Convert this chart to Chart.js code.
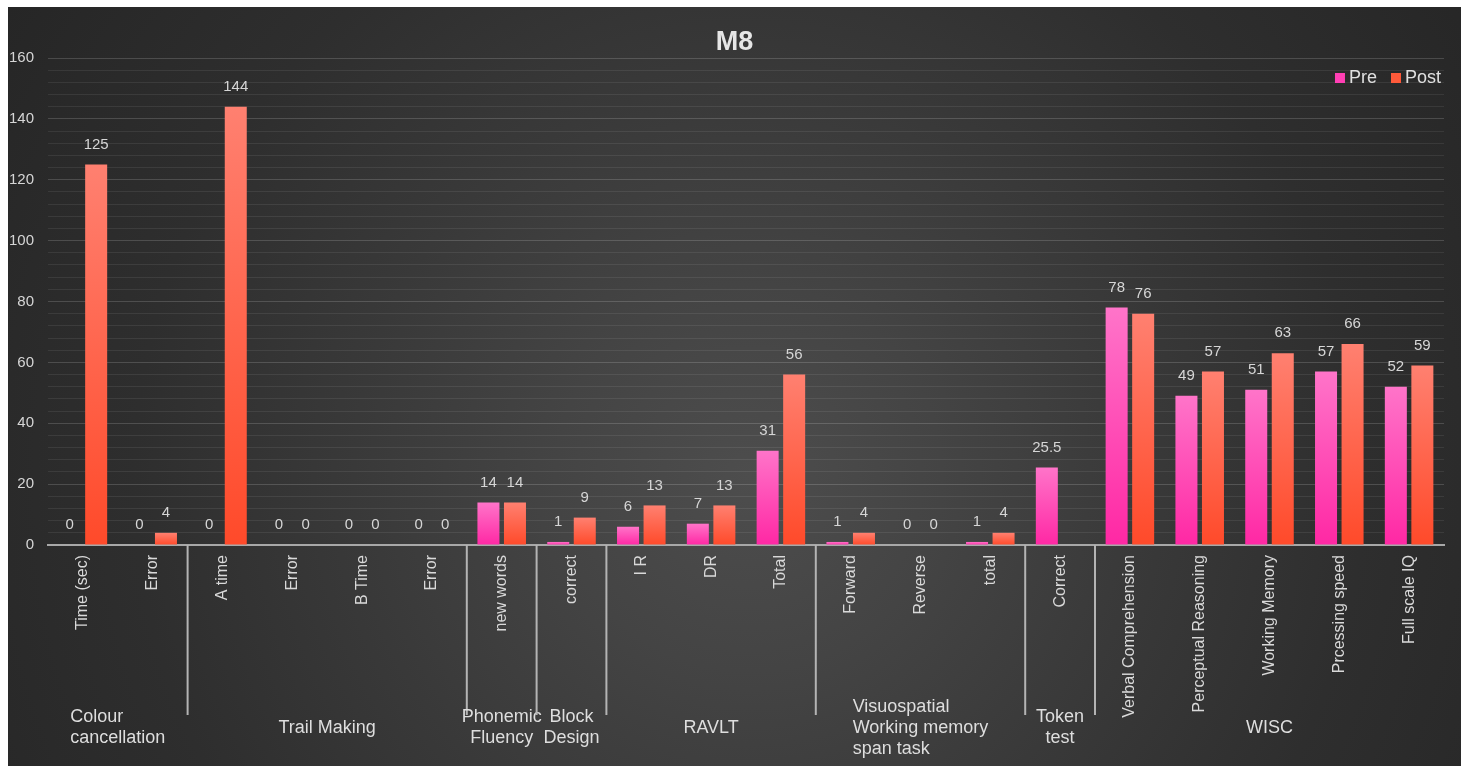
<!DOCTYPE html>
<html>
<head>
<meta charset="utf-8">
<script src="https://cdn.jsdelivr.net/npm/chart.js@4"></script>
<style>
body{margin:0;background:#fff}
.wrap{
    position:absolute;left:8px;top:7px;width:1453px;height:759px;
    background:radial-gradient(circle at 51% 62%, #4d4d4d 0%, #444 22%, #393939 45%, #2e2e2e 70%, #262626 100%);
}
</style>
</head>
<body>
<div class="wrap"><canvas id="chart"></canvas></div>
<script>

const categories=["Time (sec)","Error","A time","Error","B Time","Error","new words","correct","I R","DR","Total","Forward","Reverse","total","Correct","Verbal Comprehension","Perceptual Reasoning","Working Memory","Prcessing speed","Full scale IQ"]
const preValues=[0,0,0,0,0,0,14,1,6,7,31,1,0,1,25.5,78,49,51,57,52]
const postValues=[125,4,144,0,0,0,14,9,13,13,56,4,0,4,null,76,57,63,66,59]

// test groups under the axis, with how many categories each one covers
const groupNames=[["Colour","cancellation"],["Trail Making"],["Phonemic","Fluency"],["Block","Design"],["RAVLT"],["Visuospatial","Working memory","span task"],["Token","test"],["WISC"]]
const groupSizes=[2,4,1,1,3,3,1,5]

const yTicks=[0,20,40,60,80,100,120,140,160]

const FONT="'Liberation Sans', Arial, sans-serif"
const SOLID=["#ff3fb4","#ff5a3a"]

function barFill(top,bottom,solid){
    return (ctx)=>{
        const chart=ctx.chart
        if(ctx.type!=="data" || !chart.scales.y) return solid
        const v=ctx.raw
        if(v===null || v===undefined) return solid
        const y=chart.scales.y
        const y0=y.getPixelForValue(0)
        const y1=y.getPixelForValue(v)
        if(!isFinite(y0) || !isFinite(y1) || Math.abs(y0-y1)<1) return solid
        const g=chart.ctx.createLinearGradient(0,y1,0,y0)
        g.addColorStop(0,top)
        g.addColorStop(1,bottom)
        return g
    }
}

// value written above each bar
const valueLabels={
    id:"valueLabels",
    afterDatasetsDraw(chart){
        const c=chart.ctx
        c.save()
        c.font="15px "+FONT
        c.fillStyle="#d6d6d6"
        c.textAlign="center"
        c.textBaseline="middle"
        chart.data.datasets.forEach((ds,di)=>{
            chart.getDatasetMeta(di).data.forEach((el,i)=>{
                const v=ds.data[i]
                if(v===null || v===undefined) return
                c.fillText(String(v),el.x,el.y-20)
            })
        })
        c.restore()
    }
}

// title centred on the whole canvas, legend in the top right corner of the plot
const header={
    id:"header",
    afterDraw(chart){
        const c=chart.ctx
        const area=chart.chartArea
        c.save()
        c.font="bold 27px "+FONT
        c.fillStyle="#e6e6e6"
        c.textAlign="center"
        c.textBaseline="middle"
        c.fillText("M8",chart.width/2,36)

        c.font="18px "+FONT
        c.textAlign="left"
        const y=area.top+20
        let x=area.right-3
        const items=chart.data.datasets.map((ds,i)=>({text:ds.label,color:SOLID[i]})).reverse()
        items.forEach(it=>{
            const w=c.measureText(it.text).width
            x-=w
            c.fillStyle="#e0e0e0"
            c.fillText(it.text,x,y)
            x-=14
            c.fillStyle=it.color
            c.fillRect(x,y-5,10,10)
            x-=14
        })
        c.restore()
    }
}

// group separators and group names below the rotated labels
const groupAxis={
    id:"groupAxis",
    afterDraw(chart){
        const x=chart.scales.x
        const c=chart.ctx
        const base=chart.scales.y.getPixelForValue(0)
        const step=x.getPixelForValue(1)-x.getPixelForValue(0)
        c.save()
        c.strokeStyle="#b4b4b4"
        c.lineWidth=2
        c.font="18px "+FONT
        c.fillStyle="#dedede"
        c.textBaseline="middle"
        let start=0
        groupSizes.forEach((n,gi)=>{
            const left=x.getPixelForValue(start)-step/2
            const right=x.getPixelForValue(start+n-1)+step/2
            if(start>0){
                c.beginPath()
                c.moveTo(left,base)
                c.lineTo(left,base+170)
                c.stroke()
            }
            const lines=groupNames[gi]
            const w=Math.max(...lines.map(s=>c.measureText(s).width))
            const cx=(left+right)/2
            const lh=21
            const y0=base+183-(lines.length-1)*lh/2
            lines.forEach((s,li)=>{
                if(lines.length>2 || gi===0){
                    c.textAlign="left"
                    c.fillText(s,cx-w/2,y0+li*lh)
                }else{
                    c.textAlign="center"
                    c.fillText(s,cx,y0+li*lh)
                }
            })
            start+=n
        })
        c.restore()
    }
}

new Chart(document.getElementById("chart"),{
    type:"bar",
    data:{
        labels:categories,
        datasets:[
            {
                label:"Pre",
                data:preValues,
                backgroundColor:barFill("#ff74c9","#ff28a4",SOLID[0]),
                barPercentage:0.83,
                categoryPercentage:0.76
            },
            {
                label:"Post",
                data:postValues,
                backgroundColor:barFill("#ff8070","#ff4a2a",SOLID[1]),
                barPercentage:0.83,
                categoryPercentage:0.76
            }
        ]
    },
    options:{
        responsive:true,
        maintainAspectRatio:false,
        animation:false,
        layout:{padding:{top:51,right:17}},
        plugins:{
            title:{display:false},
            legend:{display:false},
            tooltip:{enabled:false}
        },
        scales:{
            x:{
                grid:{display:false},
                border:{color:"#a8a8a8",width:2},
                ticks:{
                    color:"#d9d9d9",
                    font:{family:FONT,size:16},
                    minRotation:90,
                    maxRotation:90,
                    autoSkip:false,
                    padding:2
                },
                afterFit(scale){scale.height=221}
            },
            y:{
                min:0,
                max:160,
                border:{display:false},
                grid:{
                    drawTicks:false,
                    lineWidth:1,
                    color:(ctx)=>yTicks.includes(ctx.tick.value)?"rgba(255,255,255,0.16)":"rgba(255,255,255,0.08)"
                },
                ticks:{
                    stepSize:4,
                    autoSkip:false,
                    color:"#d6d6d6",
                    font:{family:FONT,size:15},
                    padding:14,
                    callback:(v)=>yTicks.includes(v)?v:""
                },
                afterFit(scale){scale.width=40}
            }
        }
    },
    plugins:[valueLabels,header,groupAxis]
})

</script>
</body>
</html>
